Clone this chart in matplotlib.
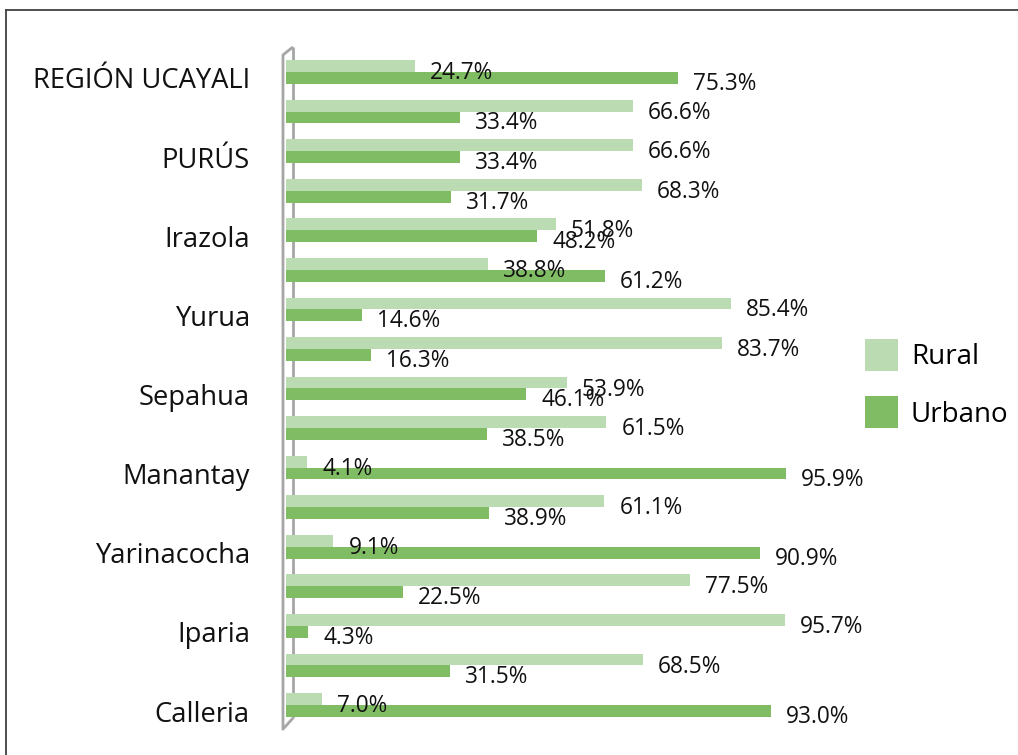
import matplotlib
matplotlib.use("Agg")
import matplotlib.pyplot as plt
import matplotlib.transforms as mtransforms
from matplotlib.lines import Line2D
import numpy as np

# ---- data (top to bottom) ----
categories = ["REGIÓN UCAYALI", "Purús", "PURÚS", "Curimaná", "Irazola",
              "Padre Abad", "Yurua", "Tahuania", "Sepahua", "Raymondi",
              "Manantay", "Nueva Requena", "Yarinacocha", "Masisea",
              "Iparia", "Campoverde", "Calleria"]
rural = [24.7, 66.6, 66.6, 68.3, 51.8, 38.8, 85.4, 83.7, 53.9, 61.5,
         4.1, 61.1, 9.1, 77.5, 95.7, 68.5, 7.0]
urbano = [75.3, 33.4, 33.4, 31.7, 48.2, 61.2, 14.6, 16.3, 46.1, 38.5,
          95.9, 38.9, 90.9, 22.5, 4.3, 31.5, 93.0]
series_names = ["Rural", "Urbano"]

plt.rcParams['font.family'] = ['Open Sans', 'DejaVu Sans']

W, H = 1018, 755
fig = plt.figure(figsize=(W / 100, H / 100), dpi=100)
ax_left_px, ax_right_px = 286, 807
top_px, bot_px = 52.2, 724.8
ax = fig.add_axes([ax_left_px / W, 1 - bot_px / H,
                   (ax_right_px - ax_left_px) / W, (bot_px - top_px) / H])

n = len(categories)
pos = np.arange(n)
h = 0.30
c_rural, c_urb = '#bbdcb2', '#80bc64'
ax.barh(pos - h / 2, rural, height=h, color=c_rural, label=series_names[0], zorder=3)
ax.barh(pos + h / 2, urbano, height=h, color=c_urb, label=series_names[1], zorder=3)
ax.set_xlim(0, 100)
ax.set_ylim(n - 0.5, -0.5)

px = 0.72  # points per pixel
for i, v in enumerate(rural):
    ax.annotate(f"{v:.1f}%", (v, i - h / 2), xytext=(15 * px, -7 * px),
                textcoords='offset points', ha='left', va='center',
                fontsize=16.3, color='#111111', zorder=5)
for i, v in enumerate(urbano):
    ax.annotate(f"{v:.1f}%", (v, i + h / 2), xytext=(15 * px, -6 * px),
                textcoords='offset points', ha='left', va='center',
                fontsize=16.3, color='#111111', zorder=5)

# y tick labels (every other category shown)
ax.set_yticks(pos[::2])
ax.set_yticklabels(categories[::2], fontsize=19.7, color='#111111')
ax.tick_params(axis='y', length=0, pad=36 * px)
offset = mtransforms.ScaledTranslation(0, -6 / 100, fig.dpi_scale_trans)
for lab in ax.get_yticklabels():
    lab.set_transform(lab.get_transform() + offset)

ax.set_xticks([])
for s in ax.spines.values():
    s.set_visible(False)

# 3D-style axis wall
xl, xr = -0.58, 1.34
yt_l, yt_r = -0.43, -0.633
yb_l, yb_r = 16.61, 16.33
wall_kw = dict(color='#a6a6a6', lw=2.0, clip_on=False, zorder=1,
               solid_capstyle='butt')
ax.plot([xr, xl, xl, xr], [yt_r, yt_l, yb_l, yb_r], **wall_kw)
ax.plot([xr, xr], [yt_r, yb_r], **wall_kw)

# legend
fig.legend(loc='upper left', bbox_to_anchor=(865 / W, 1 - 339 / H),
           frameon=False, fontsize=20, handlelength=1.2, handleheight=1.4,
           handletextpad=0.45, labelspacing=0.9, borderpad=0,
           borderaxespad=0)

# chart border (top and left)
bc = '#404040'
fig.add_artist(Line2D([6 / W, 1], [1 - 10 / H, 1 - 10 / H], color=bc, lw=1.3,
                      transform=fig.transFigure))
fig.add_artist(Line2D([6 / W, 6 / W], [0, 1 - 10 / H], color=bc, lw=1.3,
                      transform=fig.transFigure))

fig.savefig("out.png", dpi=100)
